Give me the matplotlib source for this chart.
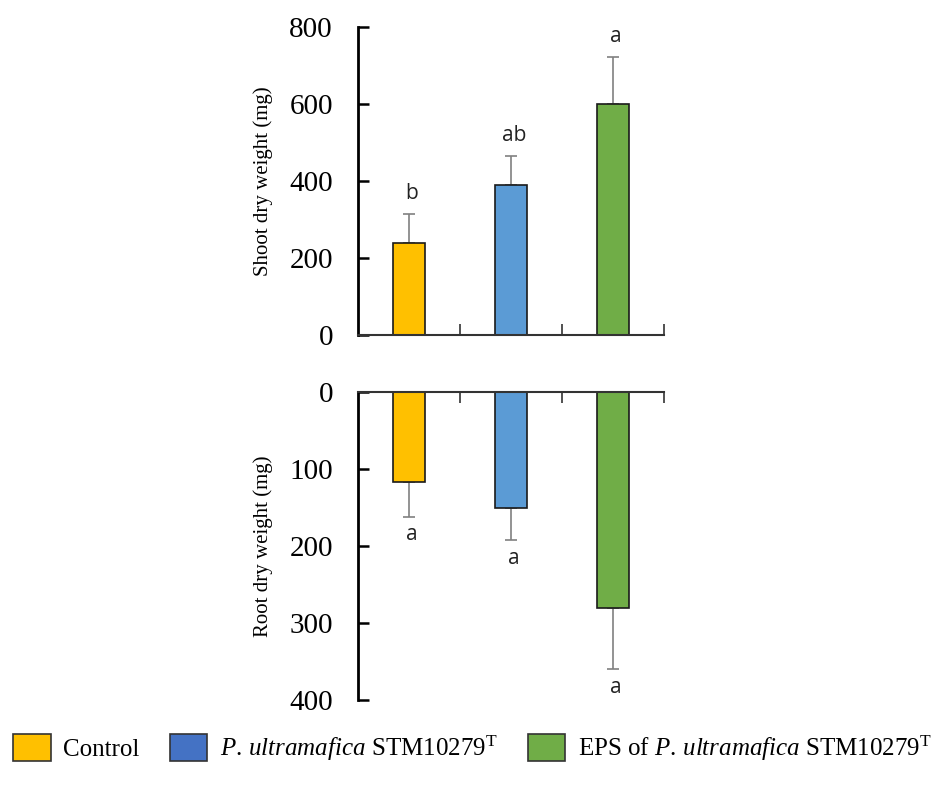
import matplotlib
matplotlib.use("Agg")
import matplotlib.pyplot as plt
from matplotlib.patches import Patch

categories = ["Control", "P. ultramafica STM10279T", "EPS of P. ultramafica STM10279T"]
shoot = [240, 389, 601]
shoot_err = [73, 75, 120]
shoot_letters = ["b", "ab", "a"]
root = [117, 151, 280]
root_err = [45, 41, 80]
root_letters = ["a", "a", "a"]

bar_colors = ["#FFC000", "#5B9BD5", "#70AD47"]
legend_colors = ["#FFC000", "#4472C4", "#70AD47"]
legend_labels = [
    "Control",
    r"$\mathit{P.}\,\mathit{ultramafica}$ STM10279$^{\mathrm{T}}$",
    r"EPS of $\mathit{P.}\,\mathit{ultramafica}$ STM10279$^{\mathrm{T}}$",
]

plt.rcParams["font.family"] = ["Liberation Serif", "DejaVu Serif"]
plt.rcParams["mathtext.fontset"] = "custom"
plt.rcParams["mathtext.rm"] = "Liberation Serif"
plt.rcParams["mathtext.it"] = "Liberation Serif:italic"

fig = plt.figure(figsize=(9.45, 7.86), dpi=100)
ax1 = fig.add_axes([0.3788, 0.5738, 0.3238, 0.3919])
ax2 = fig.add_axes([0.3788, 0.1094, 0.3238, 0.3919])

x = list(range(len(categories)))
width = 0.32
letter_font = ["Open Sans", "DejaVu Sans"]

# Top panel
ax1.bar(x, shoot, width=width, color=bar_colors, edgecolor="#1a1a1a", linewidth=1.2, zorder=2)
ax1.errorbar(x, shoot, yerr=[[0] * 3, shoot_err], fmt="none", ecolor="#808080",
             elinewidth=1.2, capsize=4, capthick=1.2, zorder=1)
for xi, v, e, lab in zip(x, shoot, shoot_err, shoot_letters):
    ax1.text(xi + 0.03, v + e + 28, lab, ha="center", va="bottom",
             fontsize=15, family=letter_font, color="#222222")
ax1.set_xlim(-0.5, 2.5)
ax1.set_ylim(0, 800)
ax1.set_yticks([0, 200, 400, 600, 800])
ax1.set_xticks([0.5, 1.5, 2.5])
ax1.set_xticklabels([])
ax1.spines["top"].set_visible(False)
ax1.spines["right"].set_visible(False)
ax1.spines["left"].set_linewidth(2)
ax1.spines["bottom"].set_linewidth(1.5)
ax1.spines["bottom"].set_color("#333333")
ax1.tick_params(axis="y", direction="in", length=8, width=1.8, labelsize=21, pad=18)
ax1.tick_params(axis="x", direction="in", length=8, width=1.2, color="#333333")
ax1.set_ylabel("Shoot dry weight (mg)", fontsize=15, labelpad=12)

# Bottom panel
ax2.bar(x, root, width=width, color=bar_colors, edgecolor="#1a1a1a", linewidth=1.2, zorder=2)
ax2.errorbar(x, root, yerr=[[0] * 3, root_err], fmt="none", ecolor="#808080",
             elinewidth=1.2, capsize=4, capthick=1.2, zorder=1)
for xi, v, e, lab in zip(x, root, root_err, root_letters):
    ax2.text(xi + 0.03, v + e + 10, lab, ha="center", va="top",
             fontsize=15, family=letter_font, color="#222222")
ax2.set_xlim(-0.5, 2.5)
ax2.set_ylim(400, 0)
ax2.set_yticks([0, 100, 200, 300, 400])
ax2.xaxis.tick_top()
ax2.set_xticks([0.5, 1.5, 2.5])
ax2.set_xticklabels([])
ax2.spines["bottom"].set_visible(False)
ax2.spines["right"].set_visible(False)
ax2.spines["left"].set_linewidth(2)
ax2.spines["top"].set_linewidth(1.5)
ax2.spines["top"].set_color("#333333")
ax2.tick_params(axis="y", direction="in", length=8, width=1.8, labelsize=21, pad=18)
ax2.tick_params(axis="x", direction="in", length=8, width=1.2, color="#333333")
ax2.set_ylabel("Root dry weight (mg)", fontsize=15, labelpad=12)

handles = [Patch(facecolor=c, edgecolor="#333333", linewidth=1.2) for c in legend_colors]
fig.legend(handles, legend_labels, loc="center", bbox_to_anchor=(0.5, 0.048), ncol=3,
           frameon=False, fontsize=18, handlelength=1.5, handleheight=1.3,
           columnspacing=1.2, handletextpad=0.5)

fig.savefig("out.png", dpi=100)
